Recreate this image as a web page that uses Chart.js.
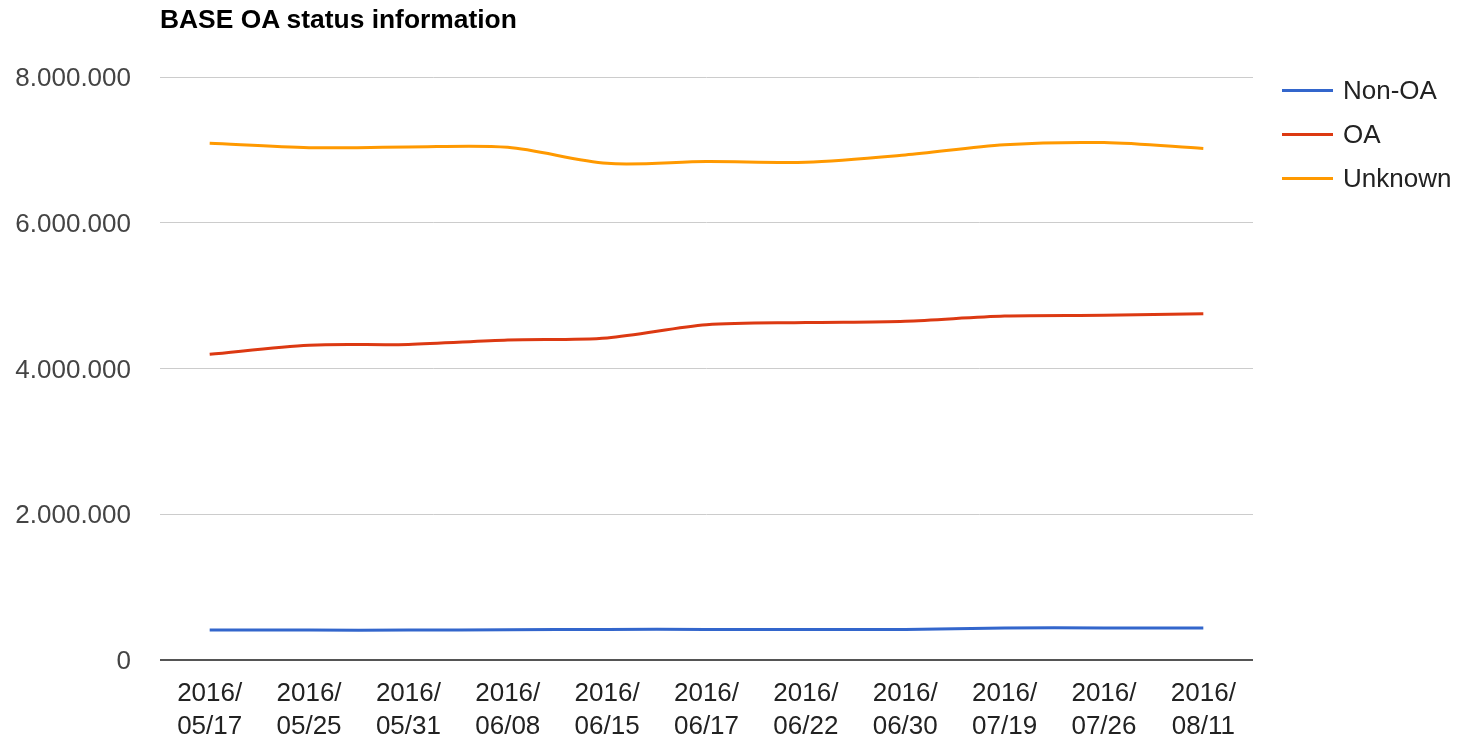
<!DOCTYPE html>
<html>
<head>
<meta charset="utf-8">
<script src="https://cdn.jsdelivr.net/npm/chart.js@4.4.0/dist/chart.umd.min.js"></script>
<style>
    html, body { margin: 0; padding: 0; background: #fff; }
    #wrap { position: relative; width: 1464px; height: 741px; }
    #title {
        position: absolute; left: 160px; top: 4px;
        font: bold 26.4px "Liberation Sans", Arial, sans-serif; color: #000;
    }
    #legend { position: absolute; left: 1282px; top: 72px; }
    .item { height: 44px; display: flex; align-items: center; position: relative; top: -4px; }
    .swatch { width: 51px; height: 3px; margin-right: 10px; }
    .label { font: 26px "Liberation Sans", Arial, sans-serif; color: #222; }
</style>
</head>
<body>
<div id="wrap">
    <canvas id="chart" width="1464" height="741"></canvas>
    <div id="title">BASE OA status information</div>
    <div id="legend"></div>
</div>
<script>
// Даты (категории)
const dates = ['2016/05/17', '2016/05/25', '2016/05/31', '2016/06/08', '2016/06/15', '2016/06/17',
               '2016/06/22', '2016/06/30', '2016/07/19', '2016/07/26', '2016/08/11'];

const seriesNames = ['Non-OA', 'OA', 'Unknown'];
const seriesColors = ['#3366cc', '#dc3912', '#ff9900'];

const nonOA = [410000, 410000, 410000, 415000, 420000, 420000, 420000, 420000, 440000, 440000, 440000];
const oa = [4195000, 4320000, 4330000, 4390000, 4420000, 4600000, 4630000, 4650000, 4720000, 4730000, 4750000];
const unknown = [7090000, 7030000, 7040000, 7035000, 6815000, 6840000, 6830000, 6930000, 7070000, 7100000, 7020000];

const yTicks = [0, 2000000, 4000000, 6000000, 8000000];

function formatNumber(v) {
    return String(v).replace(/\B(?=(\d{3})+(?!\d))/g, '.');
}

// Легенда
const legendEl = document.getElementById('legend');
seriesNames.forEach((name, i) => {
    const item = document.createElement('div');
    item.className = 'item';
    item.innerHTML = `<div class="swatch" style="background:${seriesColors[i]}"></div><span class="label">${name}</span>`;
    legendEl.appendChild(item);
});

const values = [nonOA, oa, unknown];
const ctx = document.getElementById('chart').getContext('2d');

new Chart(ctx, {
    type: 'line',
    data: {
        labels: dates.map(d => [d.slice(0, 5), d.slice(5)]),
        datasets: seriesNames.map((name, i) => ({
            label: name,
            data: values[i],
            borderColor: seriesColors[i],
            backgroundColor: seriesColors[i],
            borderWidth: 3,
            pointRadius: 0,
            tension: 0.3,
            fill: false
        }))
    },
    options: {
        responsive: false,
        animation: false,
        layout: { padding: { top: 77, right: 211, left: 0, bottom: 0 } },
        plugins: {
            legend: { display: false },
            title: { display: false },
            tooltip: { enabled: false }
        },
        scales: {
            x: {
                offset: true,
                grid: { display: false },
                border: { display: false },
                ticks: {
                    color: '#222',
                    padding: 10,
                    maxRotation: 0,
                    autoSkip: false,
                    font: { family: '"Liberation Sans", Arial, sans-serif', size: 26, lineHeight: 1.24 }
                },
                afterFit: axis => { axis.height = 81; }
            },
            y: {
                min: 0,
                max: 8000000,
                afterBuildTicks: axis => { axis.ticks = yTicks.map(v => ({ value: v })); },
                grid: {
                    drawTicks: false,
                    color: c => c.tick && c.tick.value === 0 ? '#555' : '#cccccc',
                    lineWidth: c => c.tick && c.tick.value === 0 ? 2 : 1
                },
                border: { display: false },
                ticks: {
                    color: '#444',
                    padding: 29,
                    labelOffset: 2,
                    font: { family: '"Liberation Sans", Arial, sans-serif', size: 26 },
                    callback: v => formatNumber(v)
                },
                afterFit: axis => { axis.width = 160; }
            }
        }
    }
});
</script>
</body>
</html>
